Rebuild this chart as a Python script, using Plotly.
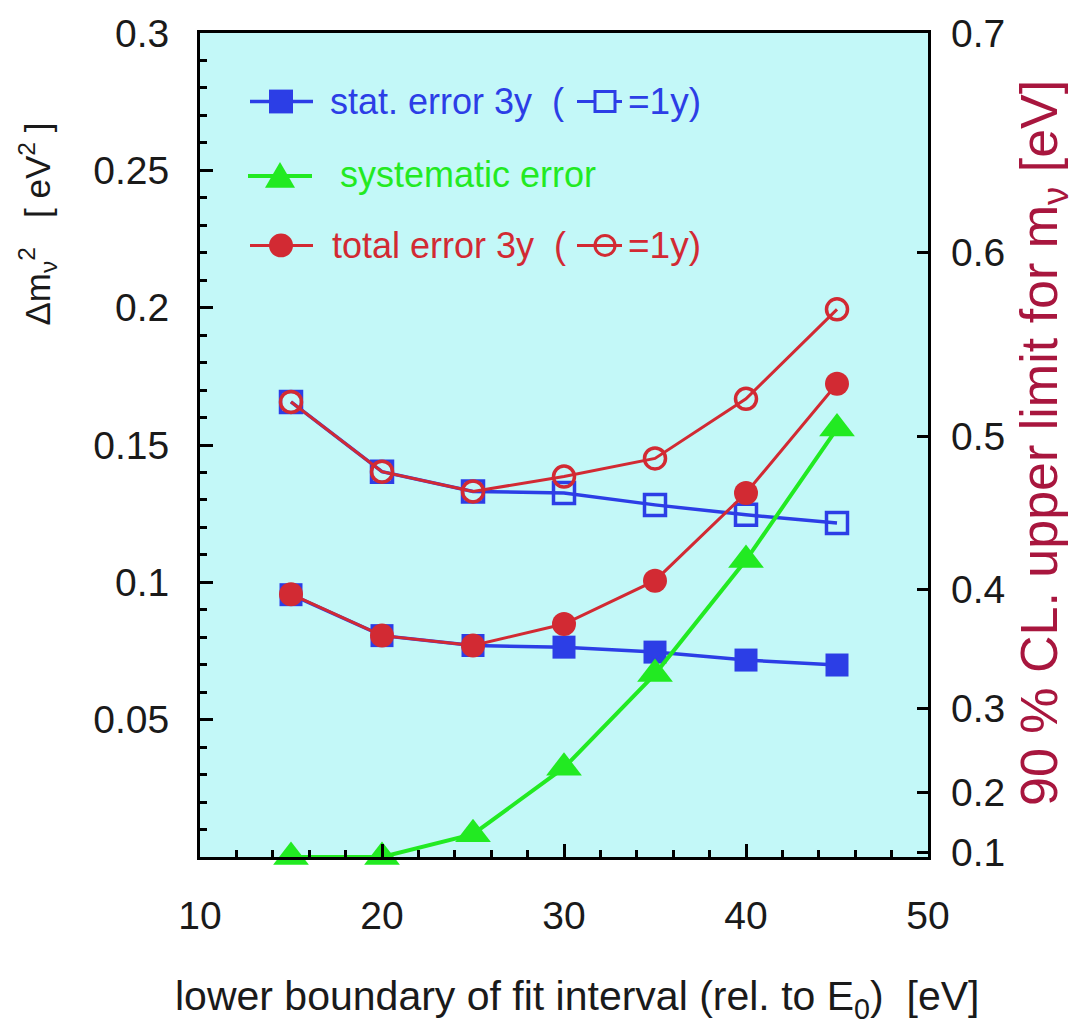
import plotly.graph_objects as go

# Lower boundary of fit interval (eV below E0)
energy = [15, 20, 25, 30, 35, 40, 45]

# Uncertainty on m_nu^2 in eV^2
stat_3y = [0.0955, 0.0806, 0.0770, 0.0764, 0.0746, 0.0717, 0.0699]
stat_1y = [0.1657, 0.1403, 0.1331, 0.1325, 0.1282, 0.1246, 0.1216]
syst = [0.0, 0.0, 0.0083, 0.0325, 0.0666, 0.1081, 0.1560]
total_3y = [0.0957, 0.0806, 0.0770, 0.0848, 0.1006, 0.1325, 0.1723]
total_1y = [0.1657, 0.1403, 0.1331, 0.1385, 0.1451, 0.1668, 0.1994]

# Left axis ticks (eV^2)
left_tick_vals = [0.05, 0.10, 0.15, 0.20, 0.25, 0.30]
left_tick_text = ["0.05", "0.1", "0.15", "0.2", "0.25", "0.3"]

# Right axis: 90% CL upper limit on m_nu (eV) and where each falls on the eV^2 scale
right_tick_text = ["0.1", "0.2", "0.3", "0.4", "0.5", "0.6", "0.7"]
right_tick_pos = [0.0018, 0.0235, 0.0540, 0.0975, 0.1530, 0.2200, 0.3000]

BLUE = "#2c3ee6"
GREEN = "#22ea22"
RED = "#d22a33"
BG = "#c3f8f8"
DARKRED = "#a8163e"
INK = "#1a1a1a"
FONT = "Liberation Sans, Arial, sans-serif"

W, H = 1079, 1027
L, R, T, B = 200, 928, 27, 857


def px(x):
    return (x - L) / (R - L)


def py(y):
    return (B - y) / (B - T)


fig = go.Figure()

fig.add_trace(go.Scatter(x=energy, y=stat_1y, mode="lines+markers",
                         line=dict(color=BLUE, width=3.5),
                         marker=dict(symbol="square-open", size=21, color=BLUE,
                                     line=dict(width=3.5, color=BLUE)),
                         cliponaxis=False, showlegend=False))
fig.add_trace(go.Scatter(x=energy, y=stat_3y, mode="lines+markers",
                         line=dict(color=BLUE, width=3.5),
                         marker=dict(symbol="square", size=23, color=BLUE),
                         cliponaxis=False, showlegend=False))
fig.add_trace(go.Scatter(x=energy, y=syst, mode="lines+markers",
                         line=dict(color=GREEN, width=4),
                         marker=dict(symbol="triangle-up", size=31, color=GREEN),
                         cliponaxis=False, showlegend=False))
fig.add_trace(go.Scatter(x=energy, y=total_3y, mode="lines+markers",
                         line=dict(color=RED, width=3),
                         marker=dict(symbol="circle", size=24, color=RED),
                         cliponaxis=False, showlegend=False))
fig.add_trace(go.Scatter(x=energy, y=total_1y, mode="lines+markers",
                         line=dict(color=RED, width=3),
                         marker=dict(symbol="circle-open", size=21, color=RED,
                                     line=dict(width=3.5, color=RED)),
                         cliponaxis=False, showlegend=False))
# invisible trace to activate the right-hand axis
fig.add_trace(go.Scatter(x=[energy[0]], y=[stat_3y[0]], yaxis="y2", mode="markers",
                         marker=dict(opacity=0), hoverinfo="skip", showlegend=False))

tickfont = dict(family=FONT, size=39, color=INK)

fig.update_layout(
    width=W, height=H,
    margin=dict(l=L, r=W - R, t=T, b=H - B),
    paper_bgcolor="white", plot_bgcolor=BG,
    font=dict(family=FONT),
    xaxis=dict(range=[10, 50], tickvals=[10, 20, 30, 40, 50], ticks="inside",
               ticklen=13, tickwidth=3, tickcolor="black",
               minor=dict(dtick=2, ticks="inside", ticklen=7, tickwidth=3, tickcolor="black"),
               showline=True, linewidth=3, linecolor="black", mirror=True,
               showgrid=False, zeroline=False, tickfont=tickfont, ticklabelstandoff=22),
    yaxis=dict(range=[0, 0.3], tickvals=left_tick_vals, ticktext=left_tick_text,
               ticks="inside", ticklen=13, tickwidth=3, tickcolor="black",
               minor=dict(dtick=0.01, ticks="inside", ticklen=7, tickwidth=3, tickcolor="black"),
               showline=True, linewidth=3, linecolor="black", mirror=True,
               showgrid=False, zeroline=False, tickfont=tickfont, ticklabelstandoff=20),
    yaxis2=dict(range=[0, 0.3], overlaying="y", side="right",
                tickvals=right_tick_pos, ticktext=right_tick_text,
                ticks="inside", ticklen=11, tickwidth=3, tickcolor="black",
                showline=False, showgrid=False, zeroline=False,
                tickfont=tickfont, ticklabelstandoff=22),
)

annotations = [
    dict(text="lower boundary of fit interval (rel. to E<sub>0</sub>)  [eV]",
         x=px(577), y=py(1000), font=dict(size=41, color=INK)),
    dict(text="Δm<sub>ν</sub><sup>2</sup>   [ eV<sup>2</sup> ]", textangle=-90,
         x=px(38), y=py(220), font=dict(size=35, color=INK)),
    dict(text="90 % CL. upper limit for m<sub>ν</sub> [eV]", textangle=-90,
         x=px(1043), y=py(440), font=dict(size=52, color=DARKRED)),
    dict(text="stat. error 3y  (", x=px(328), y=py(96), xanchor="left",
         font=dict(size=36, color=BLUE)),
    dict(text="=1y)", x=px(626), y=py(96), xanchor="left",
         font=dict(size=37, color=BLUE)),
    dict(text="systematic error", x=px(338), y=py(170), xanchor="left",
         font=dict(size=36, color=GREEN)),
    dict(text="total error 3y  (", x=px(330), y=py(241), xanchor="left",
         font=dict(size=36, color=RED)),
    dict(text="=1y)", x=px(626), y=py(241), xanchor="left",
         font=dict(size=37, color=RED)),
]
for a in annotations:
    a.setdefault("xref", "paper")
    a.setdefault("yref", "paper")
    a.setdefault("xanchor", "center")
    a.setdefault("yanchor", "middle")
    a["showarrow"] = False
    a["font"]["family"] = FONT
fig.update_layout(annotations=annotations)


def line_shape(x0, x1, y, color, width):
    return dict(type="line", xref="paper", yref="paper", x0=px(x0), x1=px(x1),
                y0=py(y), y1=py(y), line=dict(color=color, width=width))


def box(cx, cy, half, color, filled, width=3.5):
    return dict(type="rect", xref="paper", yref="paper",
                x0=px(cx - half), x1=px(cx + half), y0=py(cy + half), y1=py(cy - half),
                line=dict(color=color, width=width if not filled else 0),
                fillcolor=color if filled else BG)


def disc(cx, cy, r, color, filled, width=3.5):
    return dict(type="circle", xref="paper", yref="paper",
                x0=px(cx - r), x1=px(cx + r), y0=py(cy + r), y1=py(cy - r),
                line=dict(color=color, width=width if not filled else 0),
                fillcolor=color if filled else "rgba(0,0,0,0)")


def tri(cx, cy, color):
    pts = [(cx - 15, cy + 12), (cx + 15, cy + 12), (cx, cy - 14)]
    path = "M {} {} L {} {} L {} {} Z".format(*[v for p in pts for v in (px(p[0]), py(p[1]))])
    return dict(type="path", xref="paper", yref="paper", path=path,
                fillcolor=color, line=dict(width=0))


shapes = [
    line_shape(250, 313, 96, BLUE, 3.5), box(281, 96, 12, BLUE, True),
    line_shape(577, 622, 96, BLUE, 3), box(605, 96, 10, BLUE, False, 3),
    line_shape(248, 312, 171, GREEN, 4), tri(280, 171, GREEN),
    line_shape(250, 313, 241, RED, 3), disc(281, 241, 12, RED, True),
    line_shape(577, 622, 241, RED, 3), disc(605, 241, 10, RED, False, 3),
]
fig.update_layout(shapes=shapes)

fig.write_html("out.html")
